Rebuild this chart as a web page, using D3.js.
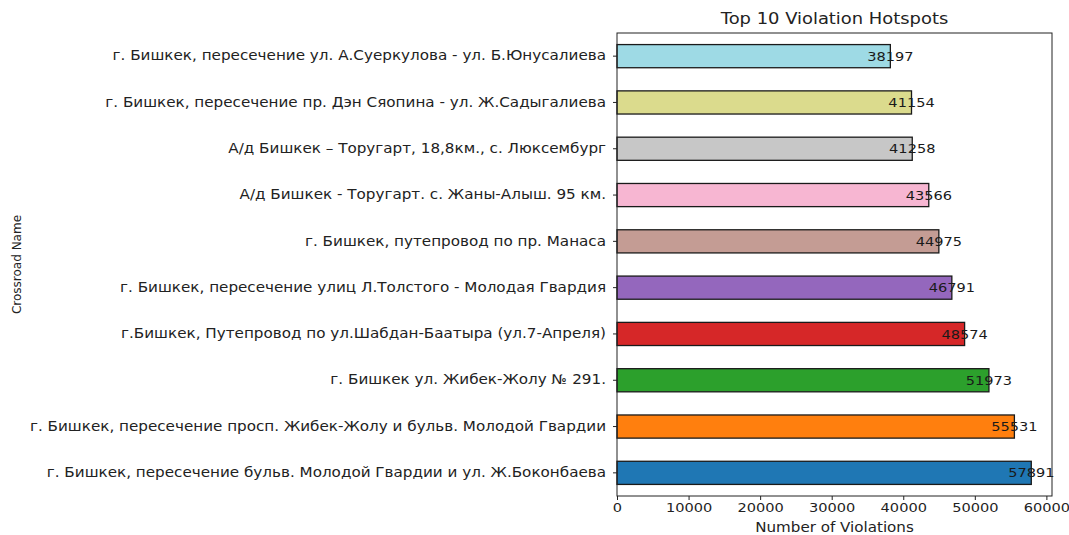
<!DOCTYPE html>
<html>
<head>
<meta charset="utf-8">
<script src="https://cdn.jsdelivr.net/npm/d3@7"></script>
<style>
  body { margin: 0; background: #fff; }
  svg { display: block; font-family: "DejaVu Sans", sans-serif; }
</style>
</head>
<body>
<svg id="chart" width="1069" height="535"></svg>
<script>
// Data (top to bottom as displayed)
const categories = [
  "г. Бишкек, пересечение ул. А.Суеркулова - ул. Б.Юнусалиева",
  "г. Бишкек, пересечение пр. Дэн Сяопина - ул. Ж.Садыгалиева",
  "А/д Бишкек – Торугарт, 18,8км., с. Люксембург",
  "А/д Бишкек - Торугарт. с. Жаны-Алыш. 95 км.",
  "г. Бишкек, путепровод по пр. Манаса",
  "г. Бишкек, пересечение улиц Л.Толстого - Молодая Гвардия",
  "г.Бишкек, Путепровод по ул.Шабдан-Баатыра (ул.7-Апреля)",
  "г. Бишкек ул. Жибек-Жолу № 291. ",
  "г. Бишкек, пересечение просп. Жибек-Жолу и бульв. Молодой Гвардии",
  "г. Бишкек, пересечение бульв. Молодой Гвардии и ул. Ж.Боконбаева"
];
const violations = [38197, 41154, 41258, 43566, 44975, 46791, 48574, 51973, 55531, 57891];
const barColors = ["#9edae5", "#dbdb8d", "#c7c7c7", "#f7b6d2", "#c49c94",
                   "#9467bd", "#d62728", "#2ca02c", "#ff7f0e", "#1f77b4"];
const xTicks = [0, 10000, 20000, 30000, 40000, 50000, 60000];
const title = "Top 10 Violation Hotspots";
const xLabel = "Number of Violations";
const yLabel = "Crossroad Name";

const SX = 1.12;  // horizontal text stretch seen in the reference
const SXY = 1.15; // stretch for category labels
const margin = { left: 617, right: 17, top: 33, bottom: 39 };
const W = 1069, H = 535;
const iw = W - margin.left - margin.right;
const ih = H - margin.top - margin.bottom;

const svg = d3.select("#chart");
const g = svg.append("g").attr("transform", `translate(${margin.left},${margin.top})`);

const xMax = d3.max(violations) * 1.05;
const x = d3.scaleLinear().domain([0, xMax]).range([0, iw]);
const y = d3.scaleBand().domain(categories).range([0, ih]).paddingInner(0.5).paddingOuter(0.25);

// bars
g.selectAll("rect.bar").data(categories).enter().append("rect")
  .attr("class", "bar")
  .attr("x", x(0))
  .attr("y", d => y(d))
  .attr("width", (d, i) => x(violations[i]) - x(0))
  .attr("height", y.bandwidth())
  .attr("fill", (d, i) => barColors[i])
  .attr("stroke", "#1a1a1a")
  .attr("stroke-width", 1.3);

// value labels
g.selectAll("text.val").data(categories).enter().append("text")
  .attr("class", "val")
  .attr("transform", (d, i) => `translate(${x(violations[i])},${y(d) + y.bandwidth() / 2}) scale(${SX},1)`)
  .attr("dy", "0.35em")
  .attr("text-anchor", "middle")
  .attr("font-size", 13)
  .attr("fill", "#1a1a1a")
  .text((d, i) => violations[i]);

// frame
g.append("rect").attr("x", 0).attr("y", 0).attr("width", iw).attr("height", ih)
  .attr("fill", "none").attr("stroke", "#222").attr("stroke-width", 1);

// x axis
const xAxis = g.append("g").attr("transform", `translate(0,${ih})`)
  .call(d3.axisBottom(x).tickValues(xTicks).tickFormat(d3.format("d")).tickSize(4).tickPadding(3));
xAxis.select(".domain").remove();
xAxis.selectAll("text").attr("font-size", 13).attr("fill", "#222").attr("font-family", "DejaVu Sans")
  .attr("transform", `scale(${SX},1)`);
xAxis.selectAll("line").attr("stroke", "#222");

// y axis
const yAxis = g.append("g")
  .call(d3.axisLeft(y).tickSize(4).tickPadding(7));
yAxis.select(".domain").remove();
yAxis.selectAll("text").attr("font-size", 13.2).attr("fill", "#222").attr("font-family", "DejaVu Sans")
  .attr("x", -11 / SXY)
  .attr("transform", `scale(${SXY},1)`);
yAxis.selectAll("line").attr("stroke", "#222");

// title
svg.append("text")
  .attr("transform", `translate(${margin.left + iw / 2},24) scale(${SX},1)`)
  .attr("text-anchor", "middle").attr("font-size", 16).attr("fill", "#222").text(title);

// x label
svg.append("text")
  .attr("transform", `translate(${margin.left + iw / 2},532) scale(${SX},1)`)
  .attr("text-anchor", "middle").attr("font-size", 13.5).attr("fill", "#222").text(xLabel);

// y label
svg.append("text")
  .attr("transform", `translate(21,${margin.top + ih / 2}) rotate(-90)`)
  .attr("text-anchor", "middle").attr("font-size", 12).attr("fill", "#222").text(yLabel);
</script>
</body>
</html>
